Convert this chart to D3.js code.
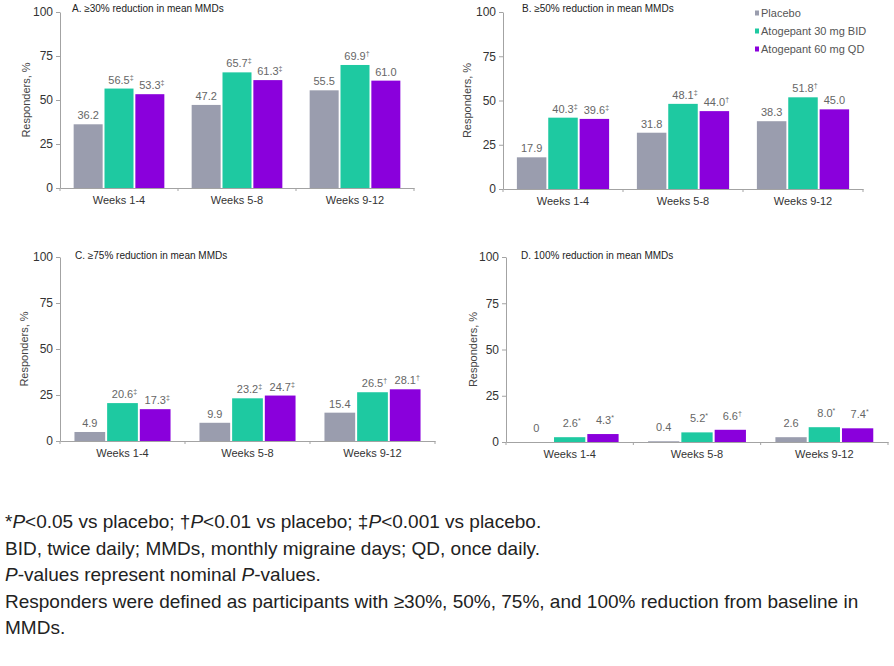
<!DOCTYPE html>
<html>
<head>
<meta charset="utf-8">
<script src="https://cdn.jsdelivr.net/npm/d3@7"></script>
<style>
  html, body { margin: 0; padding: 0; background: #fff; }
  svg { display: block; font-family: "Liberation Sans", Arial, sans-serif; }
</style>
</head>
<body>
<svg id="chart" width="894" height="666"></svg>
<script>
// ---- Data ----
const categories = ["Weeks 1-4", "Weeks 5-8", "Weeks 9-12"];
const seriesNames = ["Placebo", "Atogepant 30 mg BID", "Atogepant 60 mg QD"];
const panelTitles = [
  "A. \u226530% reduction in mean MMDs",
  "B. \u226550% reduction in mean MMDs",
  "C. \u226575% reduction in mean MMDs",
  "D. 100% reduction in mean MMDs"
];
const placeboValues = [[36.2, 47.2, 55.5], [17.9, 31.8, 38.3], [4.9, 9.9, 15.4], [0, 0.4, 2.6]];
const ato30Values   = [[56.5, 65.7, 69.9], [40.3, 48.1, 51.8], [20.6, 23.2, 26.5], [2.6, 5.2, 8.0]];
const ato60Values   = [[53.3, 61.3, 61.0], [39.6, 44.0, 45.0], [17.3, 24.7, 28.1], [4.3, 6.6, 7.4]];
const placeboSig = [["", "", ""], ["", "", ""], ["", "", ""], ["", "", ""]];
const ato30Sig   = [["\u2021", "\u2021", "\u2020"], ["\u2021", "\u2021", "\u2020"], ["\u2021", "\u2021", "\u2020"], ["*", "*", "*"]];
const ato60Sig   = [["\u2021", "\u2021", ""], ["\u2021", "\u2020", ""], ["\u2021", "\u2021", "\u2020"], ["*", "\u2020", "*"]];
const yTicks = [0, 25, 50, 75, 100];
const yLabel = "Responders, %";
const footnotes = [
  [["*", false], ["P", true], ["<0.05 vs placebo; \u2020", false], ["P", true], ["<0.01 vs placebo; \u2021", false], ["P", true], ["<0.001 vs placebo.", false]],
  [["BID, twice daily; MMDs, monthly migraine days; QD, once daily.", false]],
  [["P", true], ["-values represent nominal ", false], ["P", true], ["-values.", false]],
  [["Responders were defined as participants with \u226530%, 50%, 75%, and 100% reduction from baseline in", false]],
  [["MMDs.", false]]
];

// ---- Style / layout ----
const colors = ["#9a9dae", "#1ec9a1", "#8a00dc"];
const axisColor = "#a3a3a3";
const panels = [
  { x0: 60,  x1: 414, yTop: 12,  yBot: 188, titleX: 72,  titleY: 12,  labelX: 26,  lblOff: 5 },
  { x0: 503, x1: 863, yTop: 12,  yBot: 189, titleX: 522, titleY: 12,  labelX: 467, lblOff: 5 },
  { x0: 60,  x1: 435, yTop: 257, yBot: 441, titleX: 75,  titleY: 259, labelX: 24,  lblOff: 5 },
  { x0: 506, x1: 888, yTop: 257, yBot: 442, titleX: 521, titleY: 259, labelX: 473, lblOff: 10 }
];

const svg = d3.select("#chart");
const fmt = v => v === 0 ? "0" : d3.format(".1f")(v);

panels.forEach((p, pi) => {
  const g = svg.append("g");
  const x = d3.scaleBand().domain(categories).range([p.x0, p.x1]).padding(0);
  const inner = d3.scaleBand().domain(seriesNames)
    .range([x.bandwidth() * 0.1, x.bandwidth() * 0.9]).padding(0.06);
  const y = d3.scaleLinear().domain([0, 100]).range([p.yBot, p.yTop]);

  const rows = categories.map((c, ci) => ({
    cat: c,
    vals: [
      { s: seriesNames[0], v: placeboValues[pi][ci], sig: placeboSig[pi][ci], k: 0 },
      { s: seriesNames[1], v: ato30Values[pi][ci], sig: ato30Sig[pi][ci], k: 1 },
      { s: seriesNames[2], v: ato60Values[pi][ci], sig: ato60Sig[pi][ci], k: 2 }
    ]
  }));

  // y axis
  const ya = g.append("g").attr("transform", `translate(${p.x0},0)`)
    .call(d3.axisLeft(y).tickValues(yTicks).tickSize(4).tickSizeOuter(0).tickPadding(3));
  ya.select(".domain").attr("stroke", axisColor);
  ya.selectAll(".tick line").attr("stroke", axisColor);
  ya.selectAll(".tick text").attr("fill", "#333").attr("font-size", 12)
    .attr("font-family", "Liberation Sans, Arial, sans-serif");

  // bars
  const groups = g.selectAll(".grp").data(rows).join("g")
    .attr("transform", d => `translate(${x(d.cat)},0)`);
  groups.selectAll("rect").data(d => d.vals).join("rect")
    .attr("x", d => inner(d.s))
    .attr("width", inner.bandwidth())
    .attr("y", d => y(d.v))
    .attr("height", d => y(0) - y(d.v))
    .attr("fill", d => colors[d.k]);

  const lbl = groups.selectAll("text.val").data(d => d.vals).join("text")
    .attr("class", "val")
    .attr("x", d => inner(d.s) + inner.bandwidth() / 2 + (d.sig ? 2 : 0))
    .attr("y", d => y(d.v) - p.lblOff)
    .attr("text-anchor", "middle")
    .attr("font-size", 11)
    .attr("fill", "#666");
  lbl.append("tspan").text(d => fmt(d.v));
  lbl.filter(d => d.sig).append("tspan")
    .attr("font-size", 7).attr("dy", -4).text(d => d.sig);

  // x axis
  const xa = g.append("g").attr("transform", `translate(0,${p.yBot})`)
    .call(d3.axisBottom(x).tickSize(0).tickSizeOuter(0).tickPadding(8));
  xa.select(".domain").attr("stroke", axisColor);
  xa.selectAll(".tick text").attr("fill", "#333").attr("font-size", 11)
    .attr("font-family", "Liberation Sans, Arial, sans-serif");
  const bounds = categories.map(c => x(c)).concat([x.range()[1]]);
  g.selectAll("line.xb").data(bounds).join("line")
    .attr("x1", d => d).attr("x2", d => d)
    .attr("y1", p.yBot).attr("y2", p.yBot + 3)
    .attr("stroke", axisColor);

  // title
  g.append("text").attr("x", p.titleX).attr("y", p.titleY)
    .attr("font-size", 10).attr("fill", "#222").text(panelTitles[pi]);

  // y label
  g.append("text")
    .attr("transform", `translate(${p.labelX},${(p.yTop + p.yBot) / 2}) rotate(-90)`)
    .attr("text-anchor", "middle").attr("dy", "0.35em")
    .attr("font-size", 11).attr("fill", "#444").text(yLabel);
});

// legend
const leg = svg.append("g").attr("transform", "translate(755,13)");
seriesNames.forEach((s, i) => {
  leg.append("rect").attr("x", 0).attr("y", i * 18 - 2.5).attr("width", 4).attr("height", 5)
    .attr("fill", colors[i]);
  leg.append("text").attr("x", 6).attr("y", i * 18).attr("dy", "0.35em")
    .attr("font-size", 11).attr("fill", "#555").text(s);
});

// footnotes
const fn = svg.append("g");
footnotes.forEach((parts, i) => {
  const t = fn.append("text").attr("x", 5).attr("y", 528 + i * 26.5)
    .attr("font-size", 19).attr("fill", "#222");
  parts.forEach(([str, it]) => {
    t.append("tspan").attr("font-style", it ? "italic" : "normal").text(str);
  });
});
</script>
</body>
</html>
